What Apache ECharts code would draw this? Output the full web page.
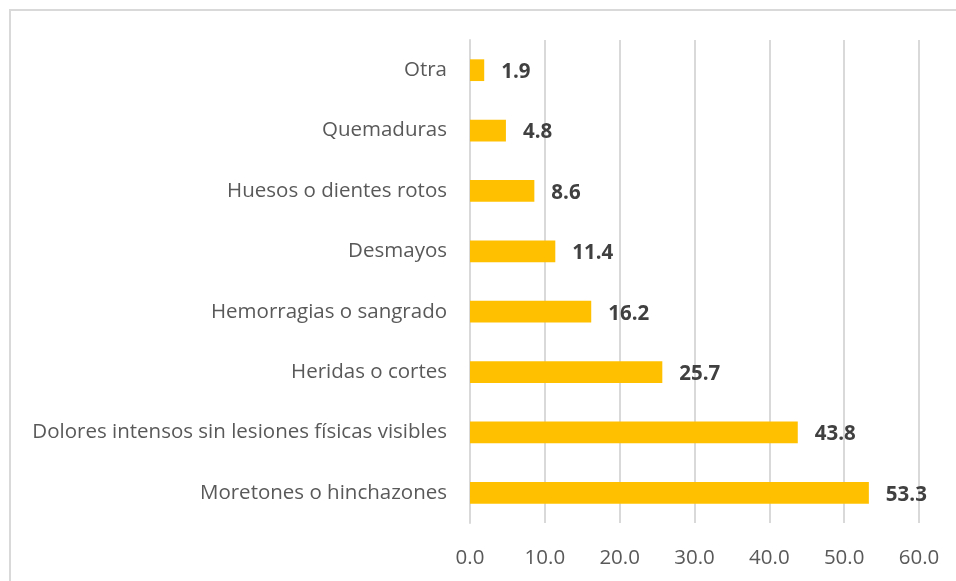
<!DOCTYPE html>
<html>
<head>
<meta charset="utf-8">
<script src="https://cdn.jsdelivr.net/npm/echarts@6/dist/echarts.min.js"></script>
<style>
html, body { margin: 0; padding: 0; background: #fff; }
#chart { width: 956px; height: 581px; }
</style>
</head>
<body>
<div id="chart"></div>
<script>
// categorias de abajo hacia arriba
var categorias = ['Moretones o hinchazones', 'Dolores intensos sin lesiones físicas visibles', 'Heridas o cortes',
    'Hemorragias o sangrado', 'Desmayos', 'Huesos o dientes rotos', 'Quemaduras', 'Otra'];
var valores = [53.3, 43.8, 25.7, 16.2, 11.4, 8.6, 4.8, 1.9];
var ticksX = ['0.0', '10.0', '20.0', '30.0', '40.0', '50.0', '60.0'];

var dom = document.getElementById('chart');
var myChart = echarts.init(dom);
var fuente = '"Open Sans", "Noto Sans", sans-serif';

var option = {
    animation: false,
    graphic: [{
        type: 'rect',
        shape: { x: 10, y: 10, width: 1000, height: 1000 },
        style: { fill: 'none', stroke: '#d9d9d9', lineWidth: 2 },
        silent: true
    }],
    grid: { left: 470, right: 37, top: 40, bottom: 58 },
    xAxis: {
        type: 'value',
        min: 0,
        max: 60,
        interval: 10,
        axisLine: { show: false },
        axisTick: { show: false },
        splitLine: { lineStyle: { color: '#d9d9d9', width: 2 } },
        axisLabel: {
            margin: 25,
            color: '#595959',
            fontSize: 20.5,
            fontFamily: fuente,
            formatter: function (v) { return ticksX[Math.round(v / 10)]; }
        }
    },
    yAxis: {
        type: 'category',
        data: categorias,
        axisLine: { lineStyle: { color: '#d9d9d9', width: 2 } },
        axisTick: { show: false },
        axisLabel: {
            margin: 23,
            color: '#595959',
            fontSize: 20.5,
            fontFamily: fuente
        }
    },
    series: [{
        type: 'bar',
        data: valores,
        barCategoryGap: '64%',
        itemStyle: { color: '#ffc000' },
        label: {
            show: true,
            position: 'right',
            distance: 17,
            offset: [0, 2],
            color: '#404040',
            fontSize: 20.5,
            fontWeight: 'bold',
            fontFamily: fuente,
            formatter: function (p) { return p.value.toFixed(1); }
        }
    }]
};
myChart.setOption(option, true);
</script>
</body>
</html>
